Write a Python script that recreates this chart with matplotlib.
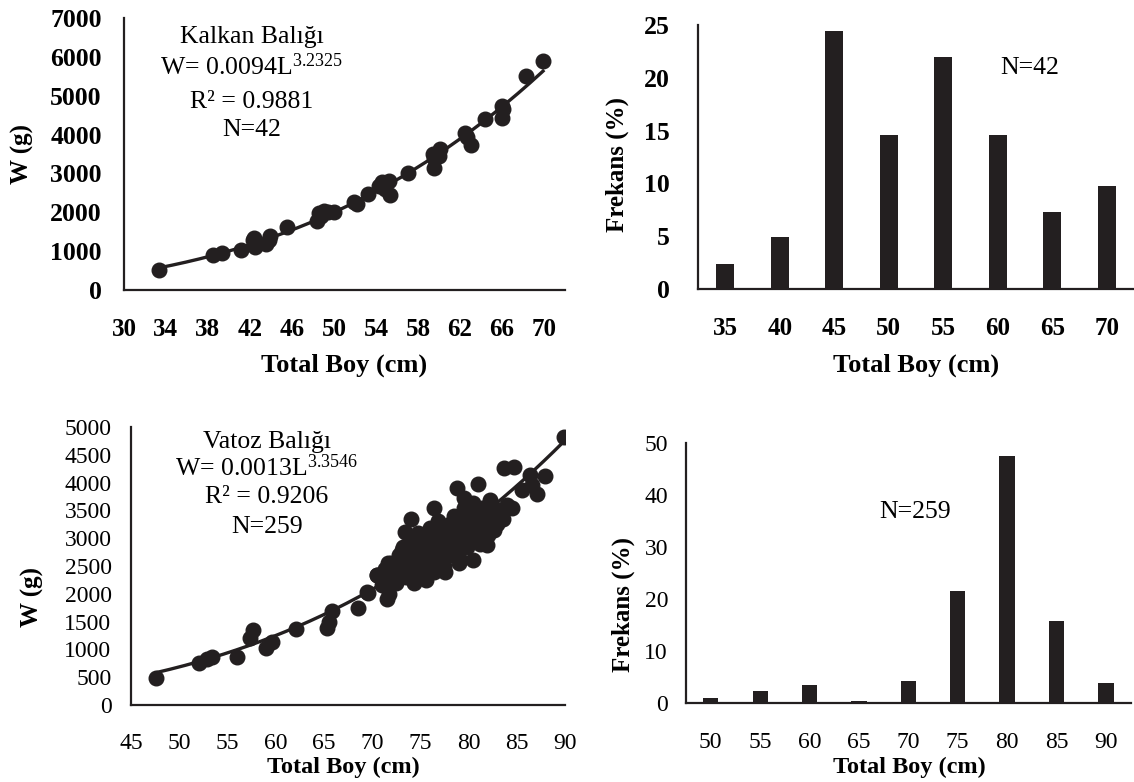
import numpy as np
import matplotlib
matplotlib.use("Agg")
import matplotlib.pyplot as plt

plt.rcParams['font.family'] = ['Liberation Serif', 'DejaVu Serif']
plt.rcParams['mathtext.fontset'] = 'custom'
plt.rcParams['mathtext.rm'] = 'Liberation Serif'
plt.rcParams['mathtext.it'] = 'Liberation Serif:italic'
plt.rcParams['mathtext.bf'] = 'Liberation Serif:bold'

INK = '#231f20'

# --- Kalkan Balığı: length (cm) / weight (g)
kalkan_L = [33.3, 38.5, 39.3, 41.1, 42.3, 42.4, 42.5, 42.6, 43.5, 43.8, 43.9, 45.5,
            48.4, 48.6, 48.8, 49.0, 49.4, 50.0, 51.9, 52.2, 53.2, 54.3, 54.6, 54.9,
            55.2, 55.3, 57.0, 59.4, 59.5, 59.5, 59.9, 60.0, 60.1, 62.5, 62.7, 63.0,
            64.4, 66.0, 66.0, 66.1, 68.3, 69.9]
kalkan_W = [530, 894, 954, 1040, 1280, 1337, 1107, 1200, 1190, 1300, 1405, 1635,
            1790, 1985, 1900, 2027, 2010, 2000, 2257, 2215, 2470, 2675, 2770, 2600,
            2810, 2445, 3020, 3490, 3130, 3400, 3535, 3450, 3620, 4030, 3950, 3730,
            4390, 4730, 4430, 4650, 5520, 5890]

# --- Vatoz Balığı: length (cm) / weight (g)
vatoz_L = [47.6, 52.1, 52.9, 53.4, 56.0, 57.3, 57.7, 59.0, 59.6, 62.1, 65.3, 65.5,
           65.8, 68.5, 69.5, 69.6, 70.5, 70.5,
           70.8, 71.0, 71.3, 71.5, 71.7, 71.8, 72.0, 72.2, 72.5, 72.8, 73.0, 73.1,
           73.2, 73.4, 73.5, 73.7, 73.9, 74.0, 74.0, 74.2, 74.3, 74.4, 74.6, 74.8,
           75.0, 75.1, 75.3, 75.5, 75.6, 75.8, 76.0, 76.0, 76.1, 76.3, 76.4, 76.4,
           76.5, 76.6, 76.8, 77.0, 77.1, 77.3, 77.5, 77.6, 77.6, 77.8, 78.0, 78.1,
           78.3, 78.5, 78.6, 78.8, 78.8, 79.0, 79.0, 79.1, 79.3, 79.5, 79.5, 79.6,
           79.8, 80.0, 80.1, 80.3, 80.5, 80.5, 80.6, 80.8, 81.0, 81.0, 81.2, 81.4,
           81.6, 81.8, 81.9, 82.0, 82.2, 82.2, 82.4, 82.6, 82.8, 83.0, 83.3, 83.6,
           83.7, 84.0, 84.5, 84.7, 85.5, 86.4, 86.6, 87.1, 87.9, 89.9]
vatoz_W = [479, 749, 821, 856, 869, 1199, 1349, 1019, 1139, 1361, 1379, 1500,
           1691, 1738, 2038, 2008, 2338, 2338,
           2300, 2150, 2450, 1900, 2548, 2000, 2550, 2350, 2200, 2700, 2450, 2788,
           2850, 3118, 2300, 2600, 3000, 2750, 3339, 2500, 2188, 2900, 2650, 3100,
           2400, 2800, 2600, 3000, 2250, 2700, 2900, 3177, 2500, 3100, 2398, 3537,
           2800, 2600, 3300, 2950, 2700, 3150, 2500, 2850, 2398, 3050, 2700, 3250,
           2950, 3400, 2800, 3100, 3897, 2650, 2548, 3300, 2950, 3550, 3717, 3150,
           2850, 3400, 3000, 3250, 2600, 3627, 3500, 3100, 3300, 3975, 2900, 3550,
           3200, 3400, 2878, 3050, 3650, 3687, 3300, 3150, 3450, 3250, 3500, 3350,
           4268, 3600, 3537, 4286, 3867, 4137, 3957, 3795, 4119, 4815]

# --- length-frequency (%)
kalkan_bins = ['35', '40', '45', '50', '55', '60', '65', '70']
kalkan_freq = [2.4, 4.9, 24.4, 14.6, 22.0, 14.6, 7.3, 9.8]
vatoz_bins = ['50', '55', '60', '65', '70', '75', '80', '85', '90']
vatoz_freq = [0.9, 2.3, 3.4, 0.4, 4.2, 21.5, 47.5, 15.8, 3.9]


def style_axes(ax):
    for s in ['top', 'right']:
        ax.spines[s].set_visible(False)
    for s in ['left', 'bottom']:
        ax.spines[s].set_linewidth(1.6)
        ax.spines[s].set_color(INK)
    ax.tick_params(length=0)


def scatter_with_fit(ax, L, W):
    L = np.asarray(L)
    W = np.asarray(W)
    ax.plot(L, W, 'o', ms=10.5, color=INK, zorder=3)
    b, a = np.polyfit(np.log(L), np.log(W), 1)
    xs = np.linspace(L.min(), L.max(), 200)
    ax.plot(xs, np.exp(a) * xs ** b, color=INK, lw=2.4, zorder=2)


fig = plt.figure(figsize=(11.34, 7.82), dpi=100)

# ---------------- top left
ax1 = fig.add_axes([0.1093, 0.629, 0.389, 0.348])
scatter_with_fit(ax1, kalkan_L, kalkan_W)
ax1.set_xlim(30, 72)
ax1.set_ylim(0, 7000)
ax1.set_xticks(range(30, 71, 4))
ax1.set_yticks(range(0, 7001, 1000))
style_axes(ax1)
ax1.tick_params(axis='x', pad=20, labelsize=18)
ax1.tick_params(axis='y', pad=16, labelsize=18.5)
for t in ax1.get_xticklabels() + ax1.get_yticklabels():
    t.set_fontweight('bold')
ax1.set_xlabel('Total Boy (cm)', fontsize=19, fontweight='bold')
ax1.set_ylabel('W (g)', fontsize=18, fontweight='bold', va='center')
ax1.xaxis.set_label_coords(0.50, -0.232)
ax1.yaxis.set_label_coords(-0.229, 0.50)
tx = 0.29
ax1.text(tx, 0.93, 'Kalkan Balığı', transform=ax1.transAxes, ha='center', va='center', fontsize=18.5)
ax1.text(tx, 0.82, 'W= 0.0094L$^{3.2325}$', transform=ax1.transAxes, ha='center', va='center', fontsize=18.5)
ax1.text(tx, 0.69, 'R² = 0.9881', transform=ax1.transAxes, ha='center', va='center', fontsize=18.5)
ax1.text(tx, 0.59, 'N=42', transform=ax1.transAxes, ha='center', va='center', fontsize=18.5)

# ---------------- top right
ax2 = fig.add_axes([0.6155, 0.6304, 0.3845, 0.3376])
x2 = np.arange(len(kalkan_bins))
ax2.bar(x2, kalkan_freq, width=0.33, color=INK)
ax2.set_xlim(-0.5, len(kalkan_bins) - 0.5)
ax2.set_ylim(0, 25)
ax2.set_xticks(x2)
ax2.set_xticklabels(kalkan_bins)
ax2.set_yticks(range(0, 26, 5))
style_axes(ax2)
ax2.tick_params(axis='x', pad=20, labelsize=18)
ax2.tick_params(axis='y', pad=20, labelsize=18.5)
for t in ax2.get_xticklabels() + ax2.get_yticklabels():
    t.set_fontweight('bold')
ax2.set_xlabel('Total Boy (cm)', fontsize=19, fontweight='bold')
ax2.set_ylabel('Frekans (%)', fontsize=18, fontweight='bold', va='center')
ax2.xaxis.set_label_coords(0.50, -0.243)
ax2.yaxis.set_label_coords(-0.186, 0.47)
ax2.text(0.761, 0.837, 'N=42', transform=ax2.transAxes, ha='center', va='center', fontsize=18.5)

# ---------------- bottom left
ax3 = fig.add_axes([0.1155, 0.0985, 0.3827, 0.3555])
scatter_with_fit(ax3, vatoz_L, vatoz_W)
ax3.set_xlim(45, 90)
ax3.set_ylim(0, 5000)
ax3.set_xticks(range(45, 91, 5))
ax3.set_yticks(range(0, 5001, 500))
style_axes(ax3)
ax3.tick_params(axis='x', pad=20, labelsize=17)
ax3.tick_params(axis='y', pad=14, labelsize=17)
ax3.set_xlabel('Total Boy (cm)', fontsize=17.5, fontweight='bold')
ax3.set_ylabel('W (g)', fontsize=18, fontweight='bold', va='center')
ax3.xaxis.set_label_coords(0.489, -0.186)
ax3.yaxis.set_label_coords(-0.228, 0.39)
tx = 0.313
ax3.text(tx, 0.946, 'Vatoz Balığı', transform=ax3.transAxes, ha='center', va='center', fontsize=18.5)
ax3.text(tx, 0.853, 'W= 0.0013L$^{3.3546}$', transform=ax3.transAxes, ha='center', va='center', fontsize=18.5)
ax3.text(tx, 0.748, 'R² = 0.9206', transform=ax3.transAxes, ha='center', va='center', fontsize=18.5)
ax3.text(tx, 0.640, 'N=259', transform=ax3.transAxes, ha='center', va='center', fontsize=18.5)

# ---------------- bottom right
ax4 = fig.add_axes([0.605, 0.101, 0.392, 0.3325])
x4 = np.arange(len(vatoz_bins))
ax4.bar(x4, vatoz_freq, width=0.31, color=INK)
ax4.set_xlim(-0.5, len(vatoz_bins) - 0.5)
ax4.set_ylim(0, 50)
ax4.set_xticks(x4)
ax4.set_xticklabels(vatoz_bins)
ax4.set_yticks(range(0, 51, 10))
style_axes(ax4)
ax4.tick_params(axis='x', pad=21, labelsize=17)
ax4.tick_params(axis='y', pad=13, labelsize=17)
ax4.set_xlabel('Total Boy (cm)', fontsize=17.5, fontweight='bold')
ax4.set_ylabel('Frekans (%)', fontsize=18, fontweight='bold', va='center')
ax4.xaxis.set_label_coords(0.503, -0.205)
ax4.yaxis.set_label_coords(-0.142, 0.377)
ax4.text(0.515, 0.735, 'N=259', transform=ax4.transAxes, ha='center', va='center', fontsize=18.5)

fig.savefig('out.png', dpi=100)
